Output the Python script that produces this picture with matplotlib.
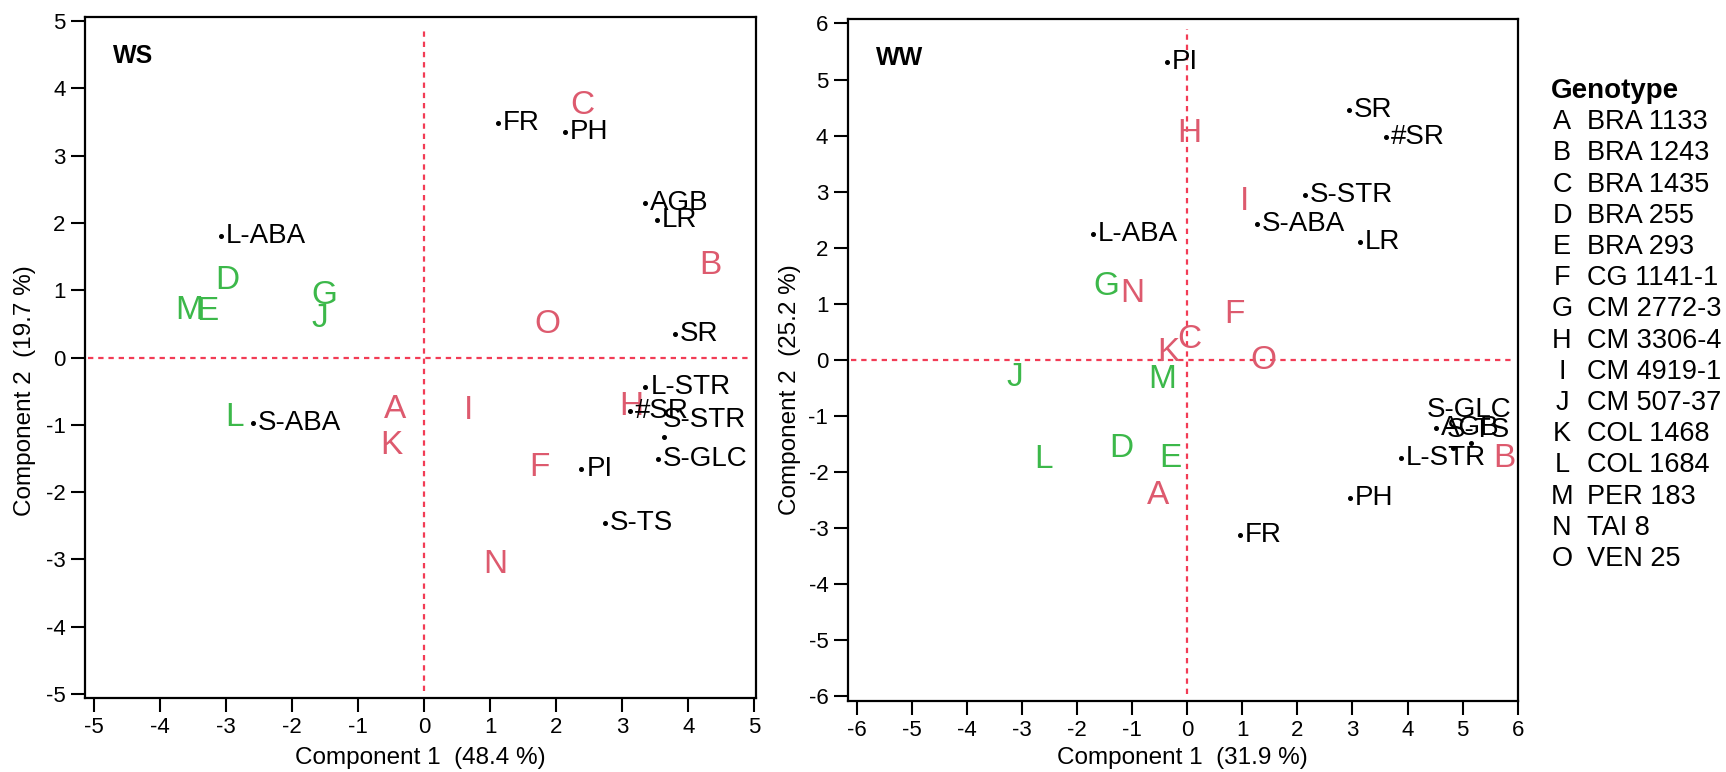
import matplotlib
matplotlib.use('Agg')
import matplotlib.pyplot as plt

plt.rcParams['font.family'] = ['Liberation Sans', 'DejaVu Sans']
plt.rcParams['axes.unicode_minus'] = False

# ---------------- data ----------------
genotype_codes = ['A', 'B', 'C', 'D', 'E', 'F', 'G', 'H', 'I', 'J', 'K', 'L', 'M', 'N', 'O']
genotype_names = ['BRA 1133', 'BRA 1243', 'BRA 1435', 'BRA 255', 'BRA 293', 'CG 1141-1',
                  'CM 2772-3', 'CM 3306-4', 'CM 4919-1', 'CM 507-37', 'COL 1468',
                  'COL 1684', 'PER 183', 'TAI 8', 'VEN 25']
genotype_group = ['red', 'red', 'red', 'green', 'green', 'red', 'green', 'red', 'red',
                  'green', 'red', 'green', 'green', 'red', 'red']

ws_geno_x = [-0.45, 4.33, 2.39, -2.98, -3.29, 1.74, -1.51, 3.14, 0.67, -1.59, -0.50, -2.87, -3.56, 1.08, 1.86]
ws_geno_y = [-0.77, 1.37, 3.74, 1.15, 0.68, -1.63, 0.92, -0.73, -0.79, 0.585, -1.31, -0.885, 0.70, -3.08, 0.49]

ws_var_names = ['FR', 'PH', 'AGB', 'LR', 'L-ABA', 'SR', 'L-STR', '#SR', 'S-STR', 'S-GLC', 'PI', 'S-TS', 'S-ABA']
ws_var_x = [1.12, 2.13, 3.34, 3.52, -3.08, 3.80, 3.35, 3.11, 3.63, 3.54, 2.38, 2.73, -2.60]
ws_var_y = [3.48, 3.35, 2.30, 2.045, 1.81, 0.35, -0.445, -0.79, -1.18, -1.505, -1.66, -2.46, -0.975]

ww_geno_x = [-0.52, 5.75, 0.04, -1.19, -0.30, 0.86, -1.46, 0.04, 1.05, -3.12, -0.34, -2.60, -0.46, -1.00, 1.39]
ww_geno_y = [-2.415, -1.76, 0.36, -1.58, -1.76, 0.81, 1.31, 4.04, 2.82, -0.32, 0.14, -1.78, -0.35, 1.18, -0.01]

ww_var_names = ['PI', 'SR', '#SR', 'S-STR', 'S-ABA', 'LR', 'L-ABA', 'S-GLC', 'AGB', 'S-TS', 'L-STR', 'PH', 'FR']
ww_var_x = [-0.37, 2.94, 3.61, 2.14, 1.27, 3.14, -1.71, 5.15, 4.52, 4.83, 3.88, 2.96, 0.96]
ww_var_y = [5.31, 4.46, 3.98, 2.94, 2.43, 2.10, 2.25, -1.475, -1.22, -1.58, -1.75, -2.47, -3.12]

ws_var_pct = ['48.4', '19.7']
ww_var_pct = ['31.9', '25.2']

# ---------------- style ----------------
RED = '#DD5A6E'
GREEN = '#3CB84A'
DASH = '#F23C55'
color_map = {'red': RED, 'green': GREEN}

W, H = 1726, 772
fig = plt.figure(figsize=(W / 100, H / 100), dpi=100)


def px_axes(l, t, r, b):
    return [l / W, 1 - b / H, (r - l) / W, (b - t) / H]


def draw_panel(ax, title, gx, gy, vnames, vx, vy, pct, lim_x, lim_y, ticks, offsets, lab_coords):
    ax.set_xlim(*lim_x)
    ax.set_ylim(*lim_y)
    ax.set_xticks(ticks)
    ax.set_yticks(ticks)
    ax.set_xticklabels([str(t) for t in ticks])
    ax.set_yticklabels([str(t) for t in ticks])
    ax.tick_params(direction='out', length=10, width=1.5, labelsize=16, pad=4, color='black')
    for s in ax.spines.values():
        s.set_linewidth(1.6)
        s.set_color('black')

    ax.axhline(0, xmin=0.005, xmax=0.99, color=DASH, lw=1.6, ls=(0, (2.4, 2.2)), zorder=1)
    ax.axvline(0, ymin=0.01, ymax=0.985, color=DASH, lw=1.6, ls=(0, (2.4, 2.2)), zorder=1)

    # genotype letters
    for code, grp, x, y in zip(genotype_codes, genotype_group, gx, gy):
        ax.text(x, y, code, color=color_map[grp], fontsize=24, ha='center', va='center', zorder=3)

    # variable points and labels
    ax.plot(vx, vy, ls='none', marker='o', ms=2.6, color='black', zorder=4)
    for name, x, y in zip(vnames, vx, vy):
        dx, dy = offsets.get(name, (3.5, 0))
        ax.annotate(name, (x, y), xytext=(dx, dy), textcoords='offset points',
                    fontsize=20, ha='left', va='center', color='black', zorder=4)

    ax.text(0.042, 0.943, title, transform=ax.transAxes, fontsize=18, fontweight='bold',
            ha='left', va='center')

    ax.set_xlabel('Component 1  (%s %%)' % pct[0], fontsize=17.5)
    ax.set_ylabel('Component 2  (%s %%)' % pct[1], fontsize=17.5)
    ax.xaxis.set_label_coords(0.5, lab_coords[0])
    ax.xaxis.label.set_va('center')
    ax.yaxis.set_label_coords(lab_coords[1], lab_coords[2])
    ax.yaxis.label.set_va('center')


ax1 = fig.add_axes(px_axes(85, 17, 755.7, 698))
draw_panel(ax1, 'WS', ws_geno_x, ws_geno_y, ws_var_names, ws_var_x, ws_var_y, ws_var_pct,
           (-5.14, 5.02), (-5.06, 5.06), list(range(-5, 6)),
           {'S-STR': (-0.7, 12.5)}, (-0.0885, -0.0895, 0.452))

ax2 = fig.add_axes(px_axes(847.7, 19, 1517.7, 700.7))
draw_panel(ax2, 'WW', ww_geno_x, ww_geno_y, ww_var_names, ww_var_x, ww_var_y, ww_var_pct,
           (-6.16, 6.0), (-6.08, 6.08), list(range(-6, 7)),
           {'S-TS': (-4.3, 13.2), 'S-GLC': (-31.7, 23.3)}, (-0.084, -0.086, 0.456))

# ---------------- legend ----------------
fig.text(1550.7 / W, 1 - 90.7 / H, 'Genotype', fontsize=20, fontweight='bold', ha='left', va='center')
for i, (code, name) in enumerate(zip(genotype_codes, genotype_names)):
    yy = 1 - (122.3 + 31.2 * i) / H
    fig.text(1562 / W, yy, code, fontsize=19.5, ha='center', va='center')
    fig.text(1586.7 / W, yy, name, fontsize=19.5, ha='left', va='center')

fig.savefig('out.png', dpi=100)
